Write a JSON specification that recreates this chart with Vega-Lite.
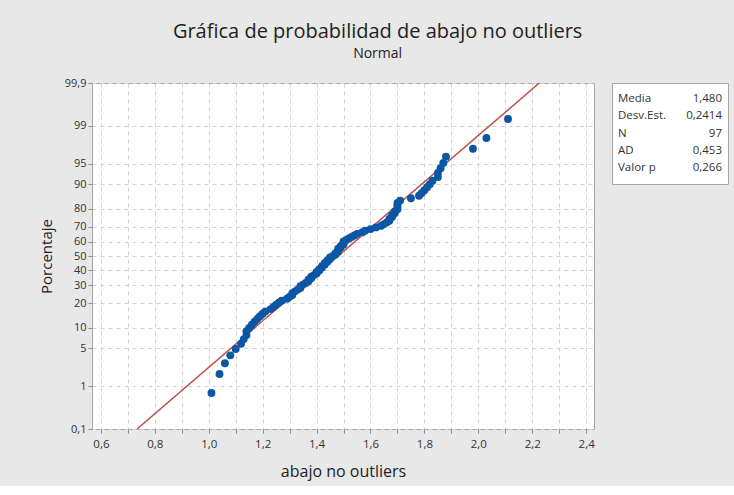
{
  "$schema": "https://vega.github.io/schema/vega-lite/v6.json",
  "background": "#e8e8e8",
  "autosize": {"type": "pad"},
  "padding": {"left": 38, "top": 21, "right": 6, "bottom": 6},
  "spacing": 16,
  "title": {
    "text": "Gráfica de probabilidad de abajo no outliers",
    "subtitle": "Normal",
    "font": "Open Sans",
    "subtitleFont": "Open Sans",
    "fontSize": 20,
    "subtitleFontSize": 14,
    "fontWeight": "normal",
    "color": "#222222",
    "subtitleColor": "#222222",
    "anchor": "middle",
    "subtitlePadding": 5,
    "offset": 16,
    "dx": -6
  },
  "config": {
    "font": "Open Sans",
    "view": {"fill": "white", "stroke": "#a6a6a6", "strokeWidth": 1}
  },
  "hconcat": [
    {
      "width": 502,
      "height": 346,
      "layer": [
        {
          "data": {"values": [{"x": 0.734, "pct": 0.1}, {"x": 2.226, "pct": 99.9}]},
          "transform": [{"calculate": "quantileNormal(datum.pct/100)", "as": "z"}],
          "mark": {"type": "line", "color": "#c0504d", "strokeWidth": 1.5, "clip": true},
          "encoding": {
            "x": {
              "field": "x", "type": "quantitative",
              "scale": {"domain": [0.567, 2.429], "nice": false, "zero": false},
              "axis": {
                "values": [0.6, 0.7, 0.8, 0.9, 1.0, 1.1, 1.2, 1.3, 1.4, 1.5, 1.6, 1.7, 1.8, 1.9, 2.0, 2.1, 2.2, 2.3, 2.4],
                "tickCount": 100,
                "labelExpr": "round(datum.value*10)%2==0 ? replace(format(datum.value,'.1f'),'.',',') : ''",
                "labelOverlap": false,
                "title": "abajo no outliers",
                "grid": true, "gridDash": [4, 4], "gridColor": "#d2d2d2",
                "domain": false, "tickColor": "#8c8c8c", "tickSize": 4,
                "labelFontSize": 11.5, "labelColor": "#333333", "labelPadding": 5,
                "titleFontSize": 16, "titleFontWeight": "normal", "titleColor": "#222222", "titlePadding": 14
              }
            },
            "y": {
              "field": "z", "type": "quantitative",
              "scale": {"domain": [-3.0902, 3.0902], "nice": false, "zero": false},
              "axis": {
                "values": [-3.0902, -2.3263, -1.6449, -1.2816, -0.8416, -0.5244, -0.2533, 0, 0.2533, 0.5244, 0.8416, 1.2816, 1.6449, 2.3263, 3.0902],
                "tickCount": 100,
                "labelExpr": "replace(toString(round(cumulativeNormal(datum.value)*1000)/10),'.',',')",
                "labelOverlap": false,
                "title": "Porcentaje",
                "grid": true, "gridDash": [4, 4], "gridColor": "#d2d2d2",
                "domain": false, "tickColor": "#8c8c8c", "tickSize": 4,
                "labelFontSize": 11, "labelColor": "#333333", "labelPadding": 2,
                "titleFontSize": 15, "titleFontWeight": "normal", "titleColor": "#222222", "titlePadding": 10
              }
            }
          }
        },
        {
          "data": {"values": [
            {"x": 1.01, "pct": 0.72}, {"x": 1.04, "pct": 1.75}, {"x": 1.06, "pct": 2.77}, {"x": 1.08, "pct": 3.80},
            {"x": 1.10, "pct": 4.83}, {"x": 1.12, "pct": 5.85}, {"x": 1.13, "pct": 6.88}, {"x": 1.14, "pct": 7.91},
            {"x": 1.14, "pct": 8.93}, {"x": 1.15, "pct": 9.96}, {"x": 1.16, "pct": 10.99}, {"x": 1.17, "pct": 12.01},
            {"x": 1.18, "pct": 13.04}, {"x": 1.19, "pct": 14.07}, {"x": 1.20, "pct": 15.09}, {"x": 1.21, "pct": 16.12},
            {"x": 1.23, "pct": 17.15}, {"x": 1.24, "pct": 18.17}, {"x": 1.25, "pct": 19.20}, {"x": 1.26, "pct": 20.23},
            {"x": 1.27, "pct": 21.25}, {"x": 1.29, "pct": 22.28}, {"x": 1.30, "pct": 23.31}, {"x": 1.31, "pct": 24.33},
            {"x": 1.31, "pct": 25.36}, {"x": 1.32, "pct": 26.39}, {"x": 1.33, "pct": 27.41}, {"x": 1.34, "pct": 28.44},
            {"x": 1.34, "pct": 29.47}, {"x": 1.35, "pct": 30.49}, {"x": 1.36, "pct": 31.52}, {"x": 1.37, "pct": 32.55},
            {"x": 1.37, "pct": 33.57}, {"x": 1.38, "pct": 34.60}, {"x": 1.38, "pct": 35.63}, {"x": 1.39, "pct": 36.65},
            {"x": 1.40, "pct": 37.68}, {"x": 1.40, "pct": 38.71}, {"x": 1.41, "pct": 39.73}, {"x": 1.41, "pct": 40.76},
            {"x": 1.42, "pct": 41.79}, {"x": 1.42, "pct": 42.81}, {"x": 1.43, "pct": 43.84}, {"x": 1.43, "pct": 44.87},
            {"x": 1.44, "pct": 45.89}, {"x": 1.44, "pct": 46.92}, {"x": 1.45, "pct": 47.95}, {"x": 1.45, "pct": 48.97},
            {"x": 1.46, "pct": 50.00}, {"x": 1.47, "pct": 51.03}, {"x": 1.47, "pct": 52.05}, {"x": 1.48, "pct": 53.08},
            {"x": 1.48, "pct": 54.11}, {"x": 1.48, "pct": 55.13}, {"x": 1.49, "pct": 56.16}, {"x": 1.49, "pct": 57.19},
            {"x": 1.50, "pct": 58.21}, {"x": 1.50, "pct": 59.24}, {"x": 1.50, "pct": 60.27}, {"x": 1.51, "pct": 61.29},
            {"x": 1.52, "pct": 62.32}, {"x": 1.53, "pct": 63.35}, {"x": 1.54, "pct": 64.37}, {"x": 1.55, "pct": 65.40},
            {"x": 1.57, "pct": 66.43}, {"x": 1.58, "pct": 67.45}, {"x": 1.60, "pct": 68.48}, {"x": 1.62, "pct": 69.51},
            {"x": 1.64, "pct": 70.53}, {"x": 1.65, "pct": 71.56}, {"x": 1.66, "pct": 72.59}, {"x": 1.67, "pct": 73.61},
            {"x": 1.67, "pct": 74.64}, {"x": 1.68, "pct": 75.67}, {"x": 1.68, "pct": 76.69}, {"x": 1.69, "pct": 77.72},
            {"x": 1.69, "pct": 78.75}, {"x": 1.70, "pct": 79.77}, {"x": 1.70, "pct": 80.80}, {"x": 1.70, "pct": 81.83},
            {"x": 1.70, "pct": 82.85}, {"x": 1.71, "pct": 83.88}, {"x": 1.75, "pct": 84.91}, {"x": 1.78, "pct": 85.93},
            {"x": 1.79, "pct": 86.96}, {"x": 1.80, "pct": 87.99}, {"x": 1.81, "pct": 89.01}, {"x": 1.82, "pct": 90.04},
            {"x": 1.83, "pct": 91.07}, {"x": 1.85, "pct": 92.09}, {"x": 1.85, "pct": 93.12}, {"x": 1.86, "pct": 94.15},
            {"x": 1.87, "pct": 95.17}, {"x": 1.88, "pct": 96.20}, {"x": 1.98, "pct": 97.23}, {"x": 2.03, "pct": 98.25},
            {"x": 2.11, "pct": 99.28}
          ]},
          "transform": [{"calculate": "quantileNormal(datum.pct/100)", "as": "z"}],
          "mark": {"type": "circle", "size": 62, "color": "#0b57a4", "opacity": 1},
          "encoding": {
            "x": {"field": "x", "type": "quantitative"},
            "y": {"field": "z", "type": "quantitative"}
          }
        }
      ]
    },
    {
      "width": 116,
      "height": 101,
      "data": {"values": [
        {"stat": "Media", "val": "1,480"},
        {"stat": "Desv.Est.", "val": "0,2414"},
        {"stat": "N", "val": "97"},
        {"stat": "AD", "val": "0,453"},
        {"stat": "Valor p", "val": "0,266"}
      ]},
      "layer": [
        {
          "mark": {"type": "text", "align": "left", "dx": 6, "fontSize": 11.5, "color": "#333333", "font": "Open Sans"},
          "encoding": {
            "x": {"datum": "a", "type": "nominal", "scale": {"type": "point", "domain": ["a", "b"], "padding": 0}, "axis": null},
            "y": {"field": "stat", "type": "nominal", "sort": null, "scale": {"type": "point", "padding": 0.9}, "axis": null},
            "text": {"field": "stat"}
          }
        },
        {
          "mark": {"type": "text", "align": "right", "dx": -6, "fontSize": 11.5, "color": "#333333", "font": "Open Sans"},
          "encoding": {
            "x": {"datum": "b", "type": "nominal"},
            "y": {"field": "stat", "type": "nominal", "sort": null},
            "text": {"field": "val"}
          }
        }
      ]
    }
  ]
}
